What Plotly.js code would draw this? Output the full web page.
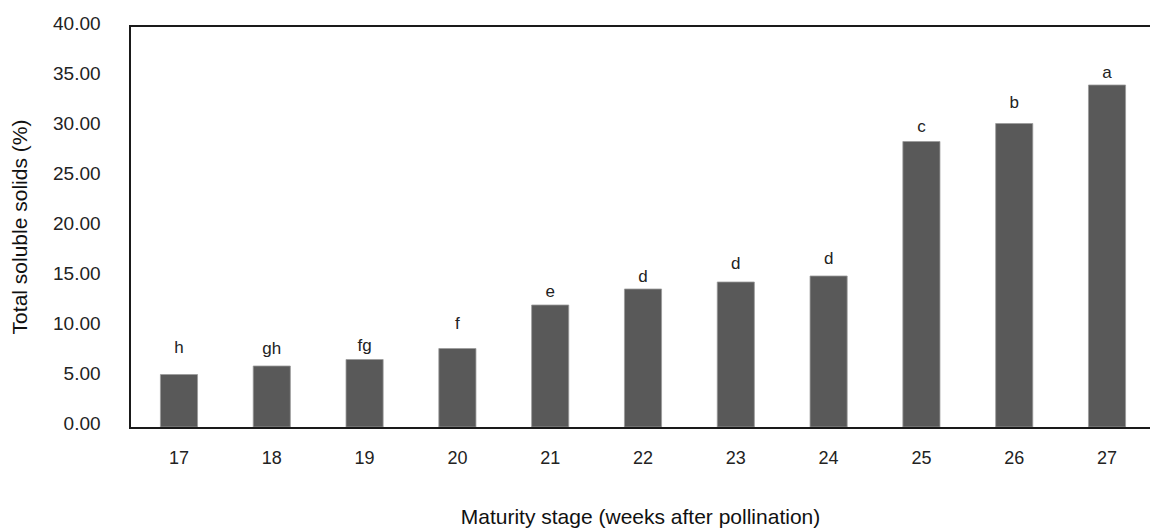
<!DOCTYPE html>
<html>
<head>
<meta charset="utf-8">
<script src="https://cdn.plot.ly/plotly-3.0.1.min.js"></script>
<style>
html,body{margin:0;padding:0;background:#fff;}
#chart{width:1150px;height:528px;}
</style>
</head>
<body>
<div id="chart"></div>
<script>
// Data
const weeks = ["17","18","19","20","21","22","23","24","25","26","27"];
const tss = [5.25, 6.1, 6.75, 7.85, 12.2, 13.8, 14.5, 15.1, 28.55, 30.35, 34.2];
const letters = ["h","gh","fg","f","e","d","d","d","c","b","a"];
const letterLift = [1.7, 0.8, 0.45, 1.5, 0.4, 0.3, 0.85, 0.75, 0.5, 1.15, 0.3];

const font = "Liberation Sans, Arial, Helvetica, sans-serif";

const bars = {
  type: "bar",
  x: weeks,
  y: tss,
  marker: {color: "#595959", line: {color: "#9a9a9a", width: 0.8}},
  hoverinfo: "skip"
};

const labels = {
  type: "scatter",
  mode: "text",
  x: weeks,
  y: tss.map((v, i) => v + letterLift[i]),
  text: letters,
  textposition: "top center",
  textfont: {family: font, size: 17, color: "#222"},
  cliponaxis: false,
  hoverinfo: "skip"
};

const layout = {
  width: 1150, height: 528,
  margin: {l: 131, r: 0, t: 27, b: 101},
  paper_bgcolor: "#fff", plot_bgcolor: "#fff",
  showlegend: false,
  bargap: 0.6,
  font: {family: font, color: "#222"},
  xaxis: {
    type: "category",
    range: [-0.517, 10.463],
    showline: true, mirror: true, linecolor: "#1a1a1a", linewidth: 1.6,
    showgrid: false, zeroline: false, ticks: "",
    ticklabelstandoff: 14,
    tickfont: {family: font, size: 18, color: "#222"},
    title: {text: "Maturity stage (weeks after pollination)", font: {family: font, size: 21, color: "#111"}, standoff: 44}
  },
  yaxis: {
    range: [0, 40], dtick: 5, tickformat: ".2f",
    showline: true, mirror: false, linecolor: "#1a1a1a", linewidth: 1.6,
    showgrid: false, zeroline: false, ticks: "",
    ticklabelstandoff: 25, ticklabelshift: -4,
    tickfont: {family: font, size: 19, color: "#222"},
    title: {text: "Total soluble solids (%)", font: {family: font, size: 21, color: "#111"}, standoff: 20}
  }
};

Plotly.newPlot("chart", [bars, labels], layout, {displayModeBar: false, staticPlot: true});
</script>
</body>
</html>
